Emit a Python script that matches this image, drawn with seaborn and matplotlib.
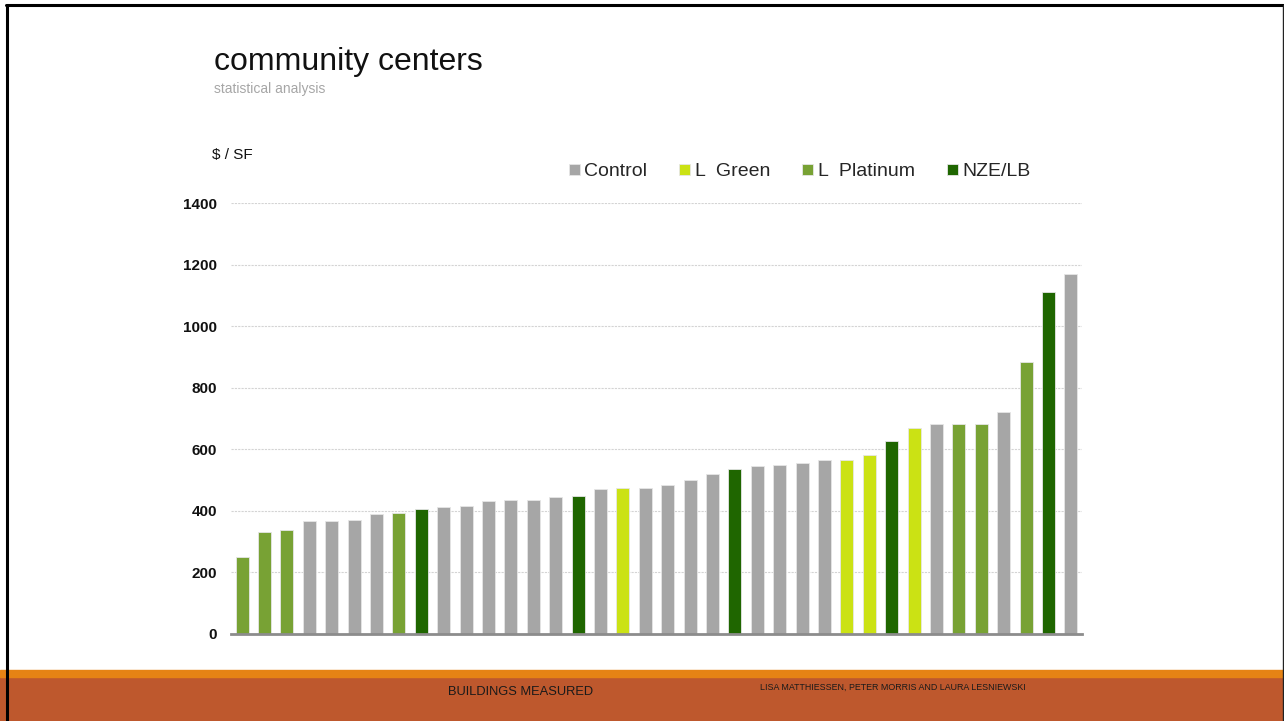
import pandas as pd
import matplotlib.pyplot as plt
import matplotlib.patches as mpatches
import matplotlib.lines as mlines
import seaborn as sns

# cost per square foot of each community center, sorted low to high
costs = [250, 331, 337, 367, 367, 370, 390, 393, 406, 411, 417, 431, 434, 434, 446, 449,
         471, 473, 475, 484, 500, 521, 537, 546, 549, 555, 564, 564, 581, 627, 668, 681,
         681, 681, 720, 883, 1112, 1170]
groups = ['L Platinum', 'L Platinum', 'L Platinum', 'Control', 'Control', 'Control', 'Control',
          'L Platinum', 'NZE/LB', 'Control', 'Control', 'Control', 'Control', 'Control', 'Control',
          'NZE/LB', 'Control', 'L Green', 'Control', 'Control', 'Control', 'Control', 'NZE/LB',
          'Control', 'Control', 'Control', 'Control', 'L Green', 'L Green', 'NZE/LB', 'L Green',
          'Control', 'L Platinum', 'L Platinum', 'Control', 'L Platinum', 'NZE/LB', 'Control']
group_order = ['Control', 'L Green', 'L Platinum', 'NZE/LB']
legend_labels = ['Control', 'L  Green', 'L  Platinum', 'NZE/LB']
y_ticks = [0, 200, 400, 600, 800, 1000, 1200, 1400]

colors = {'Control': '#A6A6A6', 'L Green': '#CBE214', 'L Platinum': '#78A234', 'NZE/LB': '#1F6600'}

df = pd.DataFrame({'building': [str(i) for i in range(1, len(costs) + 1)],
                   'cost': costs, 'group': groups})

sns.set_style('white')
plt.rcParams['font.family'] = ['Liberation Sans', 'DejaVu Sans']

fig = plt.figure(figsize=(12.84, 7.21), dpi=100)
ax = fig.add_axes([0.1799, 0.1207, 0.6628, 0.5977])

sns.barplot(data=df, x='building', y='cost', hue='group', hue_order=group_order,
            palette=colors, saturation=1, dodge=False, width=0.58, edgecolor='#e6e6e6',
            linewidth=0.6, ax=ax, zorder=3)

ax.set_xlim(-0.5, len(costs) - 0.5)
ax.set_ylim(0, 1400)
ax.set_yticks(y_ticks)
ax.set_yticklabels([str(t) for t in y_ticks], fontsize=11, fontweight='bold', color='#111111')
ax.set_xticks([])
ax.set_xlabel('')
ax.set_ylabel('')
ax.tick_params(axis='y', length=0, pad=10)
ax.yaxis.grid(True, color='#d4d4d4', linewidth=0.8, linestyle=(0, (2, 1)), zorder=0)
for s in ['top', 'right', 'left']:
    ax.spines[s].set_visible(False)
ax.spines['bottom'].set_color('#8c8c8c')
ax.spines['bottom'].set_linewidth(2)
ax.spines['bottom'].set_zorder(4)

handles, _ = ax.get_legend_handles_labels()
ax.get_legend().remove()
fig.legend(handles, legend_labels, loc='center left', bbox_to_anchor=(0.4430, 0.7615),
           ncol=4, frameon=False, fontsize=14, borderpad=0, borderaxespad=0,
           handlelength=0.55, handleheight=0.55, handletextpad=0.25, columnspacing=1.65)

fig.text(0.1667, 0.9029, 'community centers', fontsize=23, color='#111111', va='baseline')
fig.text(0.1667, 0.871, 'statistical analysis', fontsize=10, color='#A6A6A6', va='baseline')
fig.text(0.165, 0.785, '$ / SF', fontsize=11, color='#111111', va='center')

# footer bands and slide border
fig.patches.append(mpatches.Rectangle((0, 0), 1, 0.0611, transform=fig.transFigure,
                                      color='#BE582D', zorder=0))
fig.patches.append(mpatches.Rectangle((0, 0.0611), 1, 0.0097, transform=fig.transFigure,
                                      color='#E68314', zorder=0))
fig.lines.append(mlines.Line2D([0.0055, 0.0055], [0, 0.9924], transform=fig.transFigure,
                               color='black', linewidth=2.2))
fig.lines.append(mlines.Line2D([0.0047, 0.9992], [0.9924, 0.9924], transform=fig.transFigure,
                               color='black', linewidth=2.2))
fig.lines.append(mlines.Line2D([0.9992, 0.9992], [0, 0.9924], transform=fig.transFigure,
                               color='#222222', linewidth=1))

fig.text(0.4055, 0.0402, 'BUILDINGS MEASURED', fontsize=9.3, color='#1a1a1a',
         ha='center', va='center')
fig.text(0.6955, 0.0471, 'LISA MATTHIESSEN, PETER MORRIS AND LAURA LESNIEWSKI', fontsize=6.4,
         color='#1a1a1a', ha='center', va='center')

fig.savefig('out.png', dpi=100)
